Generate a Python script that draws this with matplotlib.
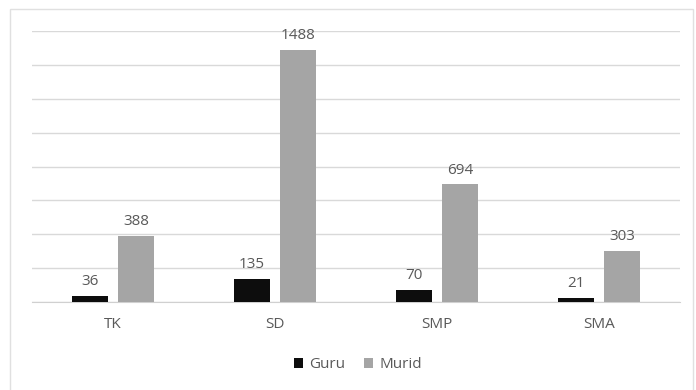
import numpy as np
import matplotlib.pyplot as plt

jenjang = ['TK', 'SD', 'SMP', 'SMA']
guru = [36, 135, 70, 21]
murid = [388, 1488, 694, 303]

plt.rcParams['font.family'] = ['Open Sans', 'DejaVu Sans']
text_color = '#595959'

fig = plt.figure(figsize=(6.96, 3.9), dpi=100)
ax = fig.add_axes([32 / 696, 1 - 302 / 390, 648 / 696, 271 / 390])

x = np.arange(len(jenjang))
w = 0.222
off = 0.142
b1 = ax.bar(x - off, guru, w, color='#0d0d0d', label='Guru', zorder=3)
b2 = ax.bar(x + off, murid, w, color='#a5a5a5', label='Murid', zorder=3)

for bars in (b1, b2):
    for b in bars:
        ax.annotate(str(int(b.get_height())),
                    (b.get_x() + b.get_width() / 2, b.get_height()),
                    xytext=(0, 5), textcoords='offset points',
                    ha='center', va='bottom', fontsize=11, color=text_color)

ax.set_xlim(-0.5, 3.5)
ax.set_ylim(0, 1600)
ax.set_yticks(np.arange(0, 1601, 200))
ax.yaxis.grid(True, color='#d9d9d9', linewidth=1, zorder=0)
ax.tick_params(axis='y', left=False, labelleft=False)
ax.set_xticks(x)
ax.set_xticklabels(jenjang, fontsize=11, color=text_color)
ax.tick_params(axis='x', length=0, pad=11)
for s in ['top', 'right', 'left']:
    ax.spines[s].set_visible(False)
ax.spines['bottom'].set_color('#d0d0d0')

fig.legend(loc='center', bbox_to_anchor=(358 / 696, 1 - 365 / 390), ncol=2,
           frameon=False, fontsize=11, labelcolor=text_color,
           handlelength=0.6, handleheight=0.6, handletextpad=0.4,
           columnspacing=1.2)

# light outer frame around the chart
fig.patches.append(plt.Rectangle((10 / 696, -5 / 390), 683 / 696, 386 / 390,
                                 transform=fig.transFigure, fill=False,
                                 edgecolor='#e0e0e0', linewidth=1))

fig.savefig('out.png', dpi=100)
